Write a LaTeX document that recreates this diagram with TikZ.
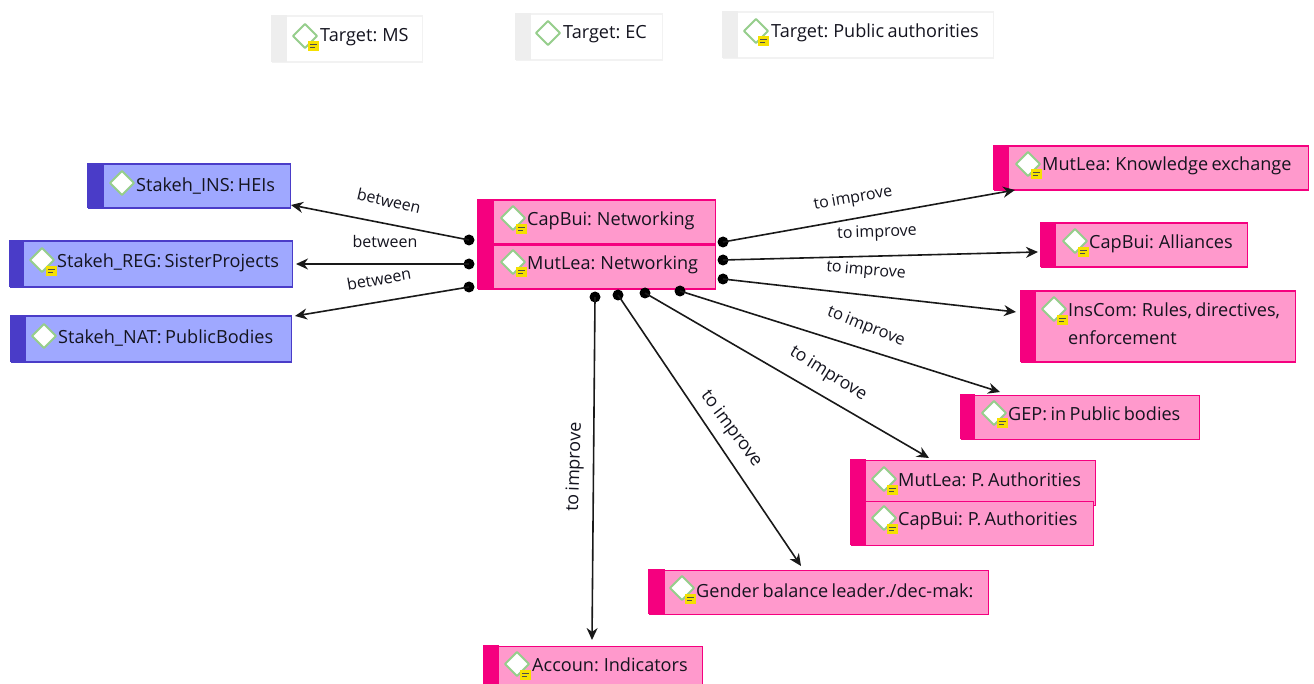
\documentclass[tikz,border=0pt]{standalone}
\usepackage{fontspec}
\setmainfont[WordSpace=0.72]{Open Sans}
\usetikzlibrary{arrows.meta}
\definecolor{pinkfill}{HTML}{FF99CC}
\definecolor{pinkline}{HTML}{F5007F}
\definecolor{bluefill}{HTML}{9FA8FF}
\definecolor{blueline}{HTML}{4A3CC8}
\definecolor{greybar}{HTML}{EEEEEE}
\definecolor{greyline}{HTML}{F2F2F2}
\definecolor{diagreen}{HTML}{96CE8C}
\definecolor{noteyellow}{HTML}{F5E000}
\definecolor{inkc}{HTML}{14141F}
\tikzset{
  x=1pt,y=-1pt,
  boxpink/.style={pinkline,fill=pinkfill,barc=pinkline},
  boxblue/.style={blueline,fill=bluefill,barc=blueline},
  boxwhite/.style={greyline,fill=white,barc=greybar},
  barc/.code={\def\barcolor{#1}},
  boxtext/.style={inner sep=0pt,anchor=west,yshift=-1.6pt,font=\fontsize{18.1}{22}\selectfont,text=inkc,align=left},
  conn/.style={line width=1.6pt,draw=black!90},
  arrowconn/.style={conn,-{Stealth[length=12pt,width=11pt]}},
  startdot/.style={circle,fill=black,inner sep=0pt,minimum size=11pt},
  lab/.style={inner sep=0pt,font=\fontsize{16}{18}\selectfont,text=inkc},
  diamondicon/.style={draw=diagreen,line width=1.9pt,fill=white,line join=round},
}
% name, style, x0,y0,x1,y1, bar width
\newcommand{\elem}[7]{%
  \node[#2,draw,line width=1.6pt,inner sep=0pt,minimum width=#5pt-#3pt-1pt,minimum height=#6pt-#4pt-1pt,anchor=north west] (#1) at (#3+0.5,#4+0.5) {};
  \begingroup\tikzset{#2}\fill[\barcolor] (#3,#4) rectangle (#3+#7,#6);\endgroup
}
% icon centre x,y
\newcommand{\diam}[2]{\draw[diamondicon] (#1-12,#2) -- (#1,#2-12) -- (#1+12,#2) -- (#1,#2+12) -- cycle;}
\newcommand{\notemark}[2]{%
  \fill[noteyellow] (#1-5.5,#2-5) rectangle (#1+5.5,#2+5);
  \fill[black!70] (#1-3.5,#2-2) rectangle (#1+3.5,#2-0.6);
  \fill[black!70] (#1-3.5,#2+0.8) rectangle (#1+2,#2+2.2);
}
\begin{document}
\begin{tikzpicture}
\useasboundingbox (0,0) rectangle (1314,684);
\fill[white] (0,0) rectangle (1314,684);
% targets
\elem{tms}{boxwhite}{271}{15}{422}{62}{16}
\diam{305}{36}\notemark{313}{46}
\node[boxtext] (ttms) at (320,36) {Target: MS};
\elem{tec}{boxwhite}{515}{13}{662}{60}{16}
\diam{548}{33}
\node[boxtext] (ttec) at (563,33) {Target: EC};
\elem{tpa}{boxwhite}{722}{11}{993}{58}{16}
\diam{756}{31}\notemark{763}{41}
\node[boxtext] (ttpa) at (771,31) {Target: Public authorities};
% stakeholders
\elem{sins}{boxblue}{87}{163}{290}{208}{17}
\diam{122}{183}
\node[boxtext] (tsins) at (136,184) {Stakeh\_INS: HEIs};
\elem{sreg}{boxblue}{9}{240}{292}{287}{15}
\diam{42}{260}\notemark{51}{271}
\node[boxtext] (tsreg) at (57,261) {Stakeh\_REG: SisterProjects};
\elem{snat}{boxblue}{10}{315}{291}{362}{16}
\diam{44}{336}
\node[boxtext] (tsnat) at (58,336) {Stakeh\_NAT: PublicBodies};
% centre
\elem{ccap}{boxpink}{477}{199}{715}{244}{17}
\diam{513}{218}\notemark{521}{229}
\node[boxtext] (tccap) at (527,219) {CapBui: Networking};
\elem{cmut}{boxpink}{477}{244}{715}{289}{17}
\diam{513}{262}\notemark{521}{272}
\node[boxtext] (tcmut) at (527,263) {MutLea: Networking};
% right side
\elem{rke}{boxpink}{993}{145}{1308}{190}{16}
\diam{1028}{164}\notemark{1036}{174}
\node[boxtext] (trke) at (1042,164) {MutLea: Knowledge exchange};
\elem{ral}{boxpink}{1040}{222}{1247}{267}{16}
\diam{1075}{241}\notemark{1083}{252}
\node[boxtext] (tral) at (1089,242) {CapBui: Alliances};
\elem{rins}{boxpink}{1020}{290}{1295}{362}{16}
\diam{1054}{309}\notemark{1062}{320}
\node[boxtext] (trins) at (1068,309) {InsCom: Rules, directives,};
\node[boxtext] (trins2) at (1068,336) {enforcement};
\elem{rgep}{boxpink}{960}{394}{1199}{439}{15}
\diam{994}{413}\notemark{1002}{423}
\node[boxtext] (trgep) at (1008,412) {GEP: in Public bodies};
\elem{rmut}{boxpink}{850}{459}{1095}{505}{16}
\diam{884}{479}\notemark{892}{490}
\node[boxtext] (trmut) at (898,478) {MutLea: P. Authorities};
\elem{rcap}{boxpink}{850}{500}{1093}{545}{16}
\diam{884}{518}\notemark{892}{529}
\node[boxtext] (trcap) at (898,519) {CapBui: P. Authorities};
\elem{rgen}{boxpink}{648}{569}{988}{614}{17}
\diam{682}{588}\notemark{690}{599}
\node[boxtext] (trgen) at (696,589) {Gender balance leader./dec-mak:};
\elem{racc}{boxpink}{483}{645}{702}{690}{16}
\diam{517}{664}\notemark{525}{675}
\node[boxtext] (tracc) at (532,663) {Accoun: Indicators};
% start dots
\node[startdot] (d1) at (469,240) {};
\node[startdot] (d2) at (469,264) {};
\node[startdot] (d3) at (469,287) {};
\node[startdot] (d4) at (723,242) {};
\node[startdot] (d5) at (723,260) {};
\node[startdot] (d6) at (723,279) {};
\node[startdot] (d7) at (680,291) {};
\node[startdot] (d8) at (645,293) {};
\node[startdot] (d9) at (618,295) {};
\node[startdot] (d10) at (595,297) {};
% arrow ends
\coordinate (e1) at (291,205);
\coordinate (e2) at (296,264);
\coordinate (e3) at (295,316);
\coordinate (e4) at (1015,190);
\coordinate (e5) at (1038,252);
\coordinate (e6) at (1016,312);
\coordinate (e7) at (1000,392);
\coordinate (e8) at (929,458);
\coordinate (e9) at (801,566);
\coordinate (e10) at (592,640);
\foreach \i in {1,...,10} {\draw[arrowconn] (d\i.center) -- (e\i);}
% labels
\node[lab,rotate=-13] (l1) at (389,201) {between};
\node[lab] (l2) at (385,242) {between};
\node[lab,rotate=10] (l3) at (379,279) {between};
\node[lab,rotate=10] (l4) at (853,199) {to improve};
\node[lab,rotate=2] (l5) at (877,233) {to improve};
\node[lab,rotate=-5] (l6) at (866,271) {to improve};
\node[lab,rotate=-22,font=\fontsize{16.5}{18}\selectfont] (l7) at (866,327) {to improve};
\node[lab,rotate=-32,font=\fontsize{17.5}{18}\selectfont] (l8) at (828,374) {to improve};
\node[lab,rotate=-53,font=\fontsize{18}{18}\selectfont] (l9) at (731,429) {to improve};
\node[lab,rotate=88,font=\fontsize{18}{18}\selectfont] (l10) at (575,467) {to improve};
\end{tikzpicture}
\end{document}
